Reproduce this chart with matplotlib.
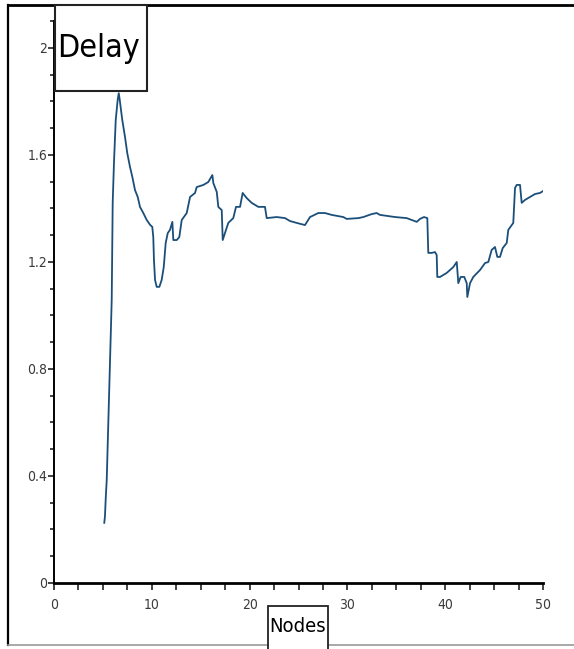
import matplotlib
matplotlib.use("Agg")
import matplotlib.pyplot as plt
from matplotlib.lines import Line2D
from matplotlib.patches import Rectangle
from matplotlib.ticker import MultipleLocator, FuncFormatter

# delay vs nodes
nodes = [5.14, 5.21, 5.29, 5.39, 5.90, 6.00, 6.13, 6.31, 6.51, 6.62, 6.72, 6.85,
         6.98, 7.26, 7.49, 7.77, 8.01, 8.28, 8.56, 8.79, 9.13, 9.48, 9.82, 10.05,
         10.15, 10.22, 10.33, 10.50, 10.77, 11.01, 11.22, 11.42, 11.63, 11.86, 12.10,
         12.20, 12.55, 12.81, 13.06, 13.57, 13.91, 14.42, 14.59, 15.27, 15.78, 16.19,
         16.29, 16.64, 16.80, 17.15, 17.25, 17.48, 17.82, 18.33, 18.61, 19.02, 19.29,
         19.70, 20.21, 20.89, 21.57, 21.75, 22.77, 23.62, 24.13, 24.82, 25.66, 26.18,
         27.02, 27.71, 28.39, 29.58, 29.93, 31.12, 31.63, 32.48, 32.99, 33.33, 34.87,
         36.06, 37.09, 37.42, 37.83, 38.17, 38.27, 38.62, 38.96, 39.13, 39.19, 39.47,
         40.15, 40.83, 41.18, 41.34, 41.58, 41.95, 42.20, 42.26, 42.54, 42.87, 43.56,
         44.07, 44.41, 44.75, 45.09, 45.33, 45.60, 45.88, 46.29, 46.45, 46.96, 47.14,
         47.31, 47.65, 47.82, 48.16, 48.67, 49.18, 49.69, 50.0]
delay = [0.225, 0.250, 0.318, 0.385, 1.058, 1.421, 1.570, 1.731, 1.806, 1.831, 1.806, 1.768,
         1.731, 1.667, 1.607, 1.555, 1.518, 1.469, 1.443, 1.406, 1.383, 1.357, 1.339, 1.331,
         1.293, 1.207, 1.133, 1.107, 1.107, 1.133, 1.181, 1.271, 1.308, 1.320, 1.350,
         1.282, 1.282, 1.293, 1.357, 1.383, 1.443, 1.458, 1.480, 1.488, 1.499, 1.525,
         1.495, 1.462, 1.406, 1.394, 1.282, 1.308, 1.346, 1.364, 1.406, 1.406, 1.458,
         1.439, 1.421, 1.406, 1.406, 1.364, 1.368, 1.364, 1.353, 1.346, 1.338, 1.368,
         1.383, 1.383, 1.376, 1.368, 1.361, 1.364, 1.368, 1.379, 1.383, 1.376, 1.368,
         1.364, 1.350, 1.361, 1.368, 1.364, 1.234, 1.234, 1.237, 1.226, 1.144, 1.144,
         1.159, 1.181, 1.200, 1.121, 1.144, 1.144, 1.121, 1.069, 1.121, 1.144, 1.170,
         1.196, 1.200, 1.245, 1.256, 1.219, 1.219, 1.252, 1.271, 1.320, 1.346, 1.477,
         1.488, 1.488, 1.421, 1.432, 1.443, 1.454, 1.458, 1.465]

x_label = "Nodes"
y_label = "Delay"

fig = plt.figure(figsize=(5.74, 6.49), dpi=100)
ax = fig.add_axes([0.0941, 0.1017, 0.8519, 0.8656])

ax.plot(nodes, delay, color="#1b4f7a", lw=1.3)

ax.set_xlim(0, 50)
ax.set_ylim(0, 2.1)
for s in ("top", "right"):
    ax.spines[s].set_visible(False)
ax.spines["bottom"].set_linewidth(2.0)
ax.spines["left"].set_linewidth(1.4)

ax.xaxis.set_major_locator(MultipleLocator(10))
ax.xaxis.set_minor_locator(MultipleLocator(2.5))
ax.yaxis.set_major_locator(MultipleLocator(0.4))
ax.yaxis.set_minor_locator(MultipleLocator(0.1))
fmt = FuncFormatter(lambda v, p: "%g" % round(v, 2))
ax.xaxis.set_major_formatter(fmt)
ax.yaxis.set_major_formatter(fmt)
ax.tick_params(axis="both", which="both", direction="out", color="#222222",
               width=1.2, labelcolor="#3a3a3a", labelsize=10)
ax.tick_params(axis="x", which="both", length=5, pad=6)
ax.tick_params(axis="y", which="major", length=4, pad=1)
ax.tick_params(axis="y", which="minor", length=3)
for lab in ax.get_xticklabels() + ax.get_yticklabels():
    lab.set_fontstretch("condensed")

# outer frame
fig.add_artist(Line2D([8 / 574, 1], [1 - 5 / 649] * 2, color="black", lw=2))
fig.add_artist(Line2D([8 / 574] * 2, [1 - 5 / 649, 1 - 645 / 649], color="black", lw=1.6))
fig.add_artist(Line2D([8 / 574, 1], [1 - 645 / 649] * 2, color="#9a9a9a", lw=1.2))

# label boxes
fig.add_artist(Rectangle((55 / 574, 1 - 91 / 649), 92 / 574, 86 / 649,
                         transform=fig.transFigure, facecolor="white",
                         edgecolor="#222222", lw=1.5, zorder=5))
fig.text(98 / 574, 1 - 48 / 649, y_label, ha="center", va="center",
         fontsize=23, fontstretch="condensed", color="black", zorder=6)

fig.add_artist(Rectangle((268 / 574, -0.02), 60 / 574, 1 - 606 / 649 + 0.02,
                         transform=fig.transFigure, facecolor="white",
                         edgecolor="#222222", lw=1.3, zorder=5))
fig.text(298 / 574, 1 - 627 / 649, x_label, ha="center", va="center",
         fontsize=14.5, fontstretch="condensed", color="black", zorder=6)

fig.savefig("out.png", dpi=100)
